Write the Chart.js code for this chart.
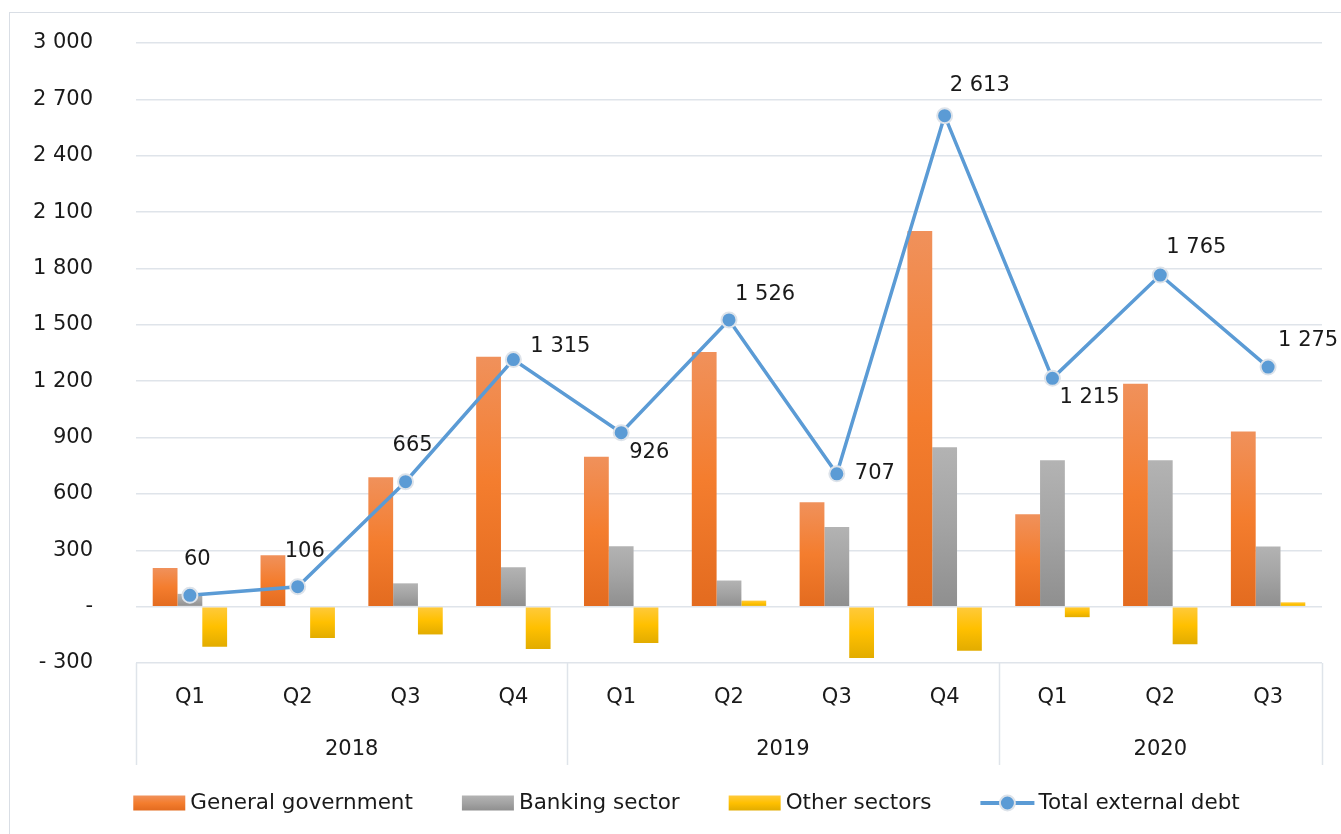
<!DOCTYPE html>
<html>
<head>
<meta charset="utf-8">
<script src="https://cdn.jsdelivr.net/npm/chart.js@4"></script>
<style>
  html, body { margin: 0; padding: 0; background: #ffffff; }
  #wrap { position: relative; width: 1341px; height: 834px; overflow: hidden; }
  #frame { position: absolute; left: 9px; top: 12px; width: 1400px; height: 900px;
           border-left: 1.5px solid #d9dee5; border-top: 1.5px solid #d9dee5; }
  canvas { position: absolute; left: 0; top: 0; }
</style>
</head>
<body>
<div id="wrap">
  <div id="frame"></div>
  <canvas id="c" width="1341" height="834"></canvas>
</div>
<script>
// ---------- DATA ----------
const categories = ['Q1','Q2','Q3','Q4','Q1','Q2','Q3','Q4','Q1','Q2','Q3'];
const years = ['2018','2019','2020'];
const quartersPerYear = [4, 4, 3];
const generalGovernment = [205, 273, 689, 1330, 798, 1355, 556, 2000, 492, 1186, 932];
const bankingSector     = [68, 0, 124, 210, 322, 139, 424, 848, 779, 779, 320];
const otherSectors      = [-213, -167, -148, -225, -194, 32, -273, -235, -56, -200, 23];
const totalExternalDebt = [60, 106, 665, 1315, 926, 1526, 707, 2613, 1215, 1765, 1275];
const seriesNames = ['General government', 'Banking sector', 'Other sectors', 'Total external debt'];
const yMin = -300, yMax = 3000, yStep = 300;

// ---------- STYLE ----------
const FONT = '"DejaVu Sans", "Liberation Sans", sans-serif';
const FONT_SIZE = 21;
const LEGEND_FONT_SIZE = 21.5;
const TEXT = '#1a1a1a';
const GRID = '#dfe4ea';
const orangeStops = ['#f0915b', '#f47d2e', '#e36b1f'];
const grayStops   = ['#b3b3b3', '#a3a3a3', '#8f8f8f'];
const yellowStops = ['#ffca3c', '#ffc000', '#e2ac00'];
const LINE_COLOR = '#5b9bd5';
// data label offsets (dx = left edge of text from point, dy = text middle from point)
const labelOffsets = [[-6,-36],[-13,-35],[-13,-36],[17,-13],[8,20],[6,-25],[18,0],[5,-30],[7,19],[6,-27],[10,-27]];
const LEGEND_CENTER_X = 686, LEGEND_Y = 803;

function fmt(v) {
  if (v === 0) return '-';
  const s = Math.abs(v).toString().replace(/\B(?=(\d{3})+(?!\d))/g, ' ');
  return v < 0 ? '- ' + s : s;
}

function barGradient(stops) {
  return (ctx) => {
    const chart = ctx.chart;
    const sc = chart.scales && chart.scales.y;
    if (!chart.chartArea || !sc || ctx.type !== 'data') return stops[1];
    const y0 = sc.getPixelForValue(0);
    const y1 = sc.getPixelForValue(ctx.raw);
    const top = Math.min(y0, y1), bot = Math.max(y0, y1);
    if (!isFinite(top) || bot - top < 1) return stops[1];
    const g = chart.ctx.createLinearGradient(0, top, 0, bot);
    g.addColorStop(0, stops[0]);
    g.addColorStop(0.5, stops[1]);
    g.addColorStop(1, stops[2]);
    return g;
  };
}

const extrasPlugin = {
  id: 'extras',
  afterDatasetsDraw(chart) {
    const c = chart.ctx;
    const meta = chart.getDatasetMeta(3);
    c.save();
    c.font = FONT_SIZE + 'px ' + FONT;
    c.fillStyle = TEXT;
    c.textAlign = 'left';
    c.textBaseline = 'middle';
    meta.data.forEach((pt, i) => {
      const o = labelOffsets[i];
      c.fillText(fmt(totalExternalDebt[i]), pt.x + o[0], pt.y + o[1]);
    });
    c.restore();
  },
  afterDraw(chart) {
    const c = chart.ctx;
    const xs = chart.scales.x;
    const area = chart.chartArea;
    c.save();
    c.strokeStyle = GRID;
    c.lineWidth = 1.5;
    let start = 0;
    const bounds = [-0.5];
    quartersPerYear.forEach(n => { start += n; bounds.push(start - 0.5); });
    bounds.forEach(b => {
      const x = Math.round(xs.getPixelForValue(b)) + 0.5;
      c.beginPath();
      c.moveTo(x, area.bottom);
      c.lineTo(x, area.bottom + 102);
      c.stroke();
    });
    c.font = FONT_SIZE + 'px ' + FONT;
    c.fillStyle = TEXT;
    c.textAlign = 'center';
    c.textBaseline = 'middle';
    years.forEach((yr, i) => {
      const mid = (bounds[i] + bounds[i + 1]) / 2;
      c.fillText(yr, xs.getPixelForValue(mid), area.bottom + 87);
    });
    // legend
    c.font = LEGEND_FONT_SIZE + 'px ' + FONT;
    const boxW = 52, boxH = 15, gap = 5, spacing = 49;
    const widths = seriesNames.map(n => c.measureText(n).width);
    const total = widths.reduce((a, w) => a + boxW + gap + w, 0) + spacing * (seriesNames.length - 1);
    let x = LEGEND_CENTER_X - total / 2;
    const stopsList = [orangeStops, grayStops, yellowStops];
    seriesNames.forEach((name, i) => {
      if (i < 3) {
        const g = c.createLinearGradient(0, LEGEND_Y - boxH / 2, 0, LEGEND_Y + boxH / 2);
        g.addColorStop(0, stopsList[i][0]);
        g.addColorStop(0.5, stopsList[i][1]);
        g.addColorStop(1, stopsList[i][2]);
        c.fillStyle = g;
        c.fillRect(x, LEGEND_Y - boxH / 2, boxW, boxH);
      } else {
        c.strokeStyle = LINE_COLOR;
        c.lineWidth = 4;
        c.beginPath();
        c.moveTo(x, LEGEND_Y);
        c.lineTo(x + boxW + 2, LEGEND_Y);
        c.stroke();
        c.beginPath();
        c.arc(x + boxW / 2 + 1, LEGEND_Y, 7.5, 0, Math.PI * 2);
        c.fillStyle = LINE_COLOR;
        c.fill();
        c.lineWidth = 2;
        c.strokeStyle = '#dde3ea';
        c.stroke();
      }
      c.fillStyle = TEXT;
      c.textAlign = 'left';
      c.fillText(name, x + boxW + gap + (i === 3 ? 1 : 0), LEGEND_Y);
      x += boxW + gap + widths[i] + spacing;
    });
    c.restore();
  }
};

new Chart(document.getElementById('c'), {
  type: 'bar',
  data: {
    labels: categories,
    datasets: [
      { label: seriesNames[0], data: generalGovernment, backgroundColor: barGradient(orangeStops), order: 1 },
      { label: seriesNames[1], data: bankingSector, backgroundColor: barGradient(grayStops), order: 1 },
      { label: seriesNames[2], data: otherSectors, backgroundColor: barGradient(yellowStops), order: 1 },
      { label: seriesNames[3], data: totalExternalDebt, type: 'line', order: 0,
        borderColor: LINE_COLOR, borderWidth: 3.5, tension: 0,
        pointRadius: 7.5, pointBackgroundColor: LINE_COLOR,
        pointBorderColor: '#dde3ea', pointBorderWidth: 2 }
    ]
  },
  options: {
    responsive: false,
    animation: false,
    devicePixelRatio: 1,
    datasets: { bar: { categoryPercentage: 0.69, barPercentage: 1.0 } },
    layout: { padding: { left: 0, right: 19, top: 43, bottom: 0 } },
    plugins: { legend: { display: false }, tooltip: { enabled: false } },
    scales: {
      x: {
        offset: true,
        grid: { display: false, drawTicks: false },
        border: { display: false },
        ticks: { color: TEXT, font: { family: FONT, size: FONT_SIZE }, padding: 22, maxRotation: 0, autoSkip: false },
        afterFit: (s) => { s.height = 171; }
      },
      y: {
        min: yMin, max: yMax,
        grid: { color: GRID, lineWidth: 1.5, drawTicks: false },
        border: { display: false },
        ticks: { stepSize: yStep, color: TEXT, font: { family: FONT, size: FONT_SIZE }, padding: 43,
                 callback: (v) => fmt(v) },
        afterFit: (s) => { s.width = 136; s.paddingTop = 0; s.paddingBottom = 0; }
      }
    }
  },
  plugins: [extrasPlugin]
});
</script>
</body>
</html>
